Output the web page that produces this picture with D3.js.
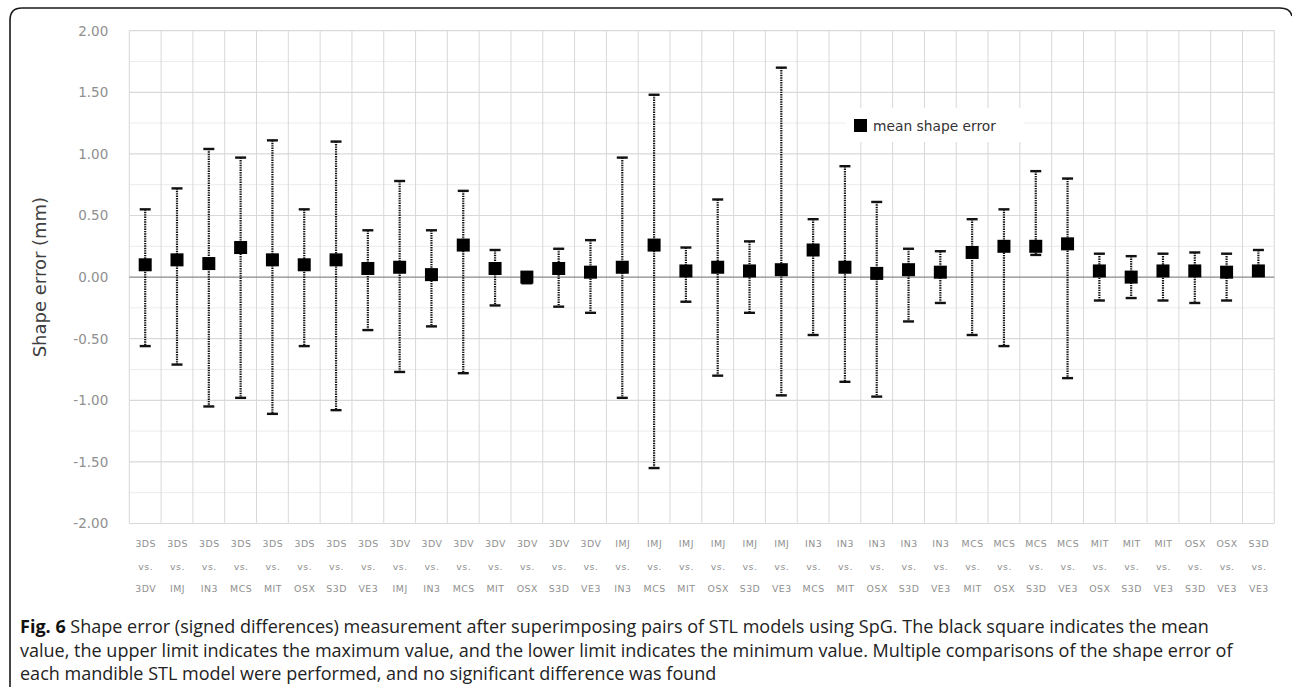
<!DOCTYPE html>
<html>
<head>
<meta charset="utf-8">
<script src="https://cdn.jsdelivr.net/npm/d3@7"></script>
<style>
	html, body { margin: 0; padding: 0; background: #ffffff; }
	svg { display: block; }
</style>
</head>
<body>
<div id="chart"></div>
<script>
// Pairs of STL models compared (first vs. second)
var pairFirst = ["3DS","3DS","3DS","3DS","3DS","3DS","3DS","3DS","3DV","3DV","3DV","3DV","3DV","3DV","3DV",
	"IMJ","IMJ","IMJ","IMJ","IMJ","IMJ","IN3","IN3","IN3","IN3","IN3","MCS","MCS","MCS","MCS",
	"MIT","MIT","MIT","OSX","OSX","S3D"];
var pairSecond = ["3DV","IMJ","IN3","MCS","MIT","OSX","S3D","VE3","IMJ","IN3","MCS","MIT","OSX","S3D","VE3",
	"IN3","MCS","MIT","OSX","S3D","VE3","MCS","MIT","OSX","S3D","VE3","MIT","OSX","S3D","VE3",
	"OSX","S3D","VE3","S3D","VE3","VE3"];
// Shape error (mm)
var meanValues = [0.10,0.14,0.11,0.24,0.14,0.10,0.14,0.07,0.08,0.02,0.26,0.07,0.00,0.07,0.04,
	0.08,0.26,0.05,0.08,0.05,0.06,0.22,0.08,0.03,0.06,0.04,0.20,0.25,0.25,0.27,
	0.05,0.00,0.05,0.05,0.04,0.05];
var maxValues = [0.55,0.72,1.04,0.97,1.11,0.55,1.10,0.38,0.78,0.38,0.70,0.22,0.01,0.23,0.30,
	0.97,1.48,0.24,0.63,0.29,1.70,0.47,0.90,0.61,0.23,0.21,0.47,0.55,0.86,0.80,
	0.19,0.17,0.19,0.20,0.19,0.22];
var minValues = [-0.56,-0.71,-1.05,-0.98,-1.11,-0.56,-1.08,-0.43,-0.77,-0.40,-0.78,-0.23,-0.05,-0.24,-0.29,
	-0.98,-1.55,-0.20,-0.80,-0.29,-0.96,-0.47,-0.85,-0.97,-0.36,-0.21,-0.47,-0.56,0.18,-0.82,
	-0.19,-0.17,-0.19,-0.21,-0.19,0.02];
var yTicks = [-2.00,-1.50,-1.00,-0.50,0.00,0.50,1.00,1.50,2.00];
var yMinorTicks = [-1.75,-1.25,-0.75,-0.25,0.25,0.75,1.25,1.75];
var legendLabel = "mean shape error";
var yTitle = "Shape error (mm)";
var captionLines = [
	"Shape error (signed differences) measurement after superimposing pairs of STL models using SpG. The black square indicates the mean",
	"value, the upper limit indicates the maximum value, and the lower limit indicates the minimum value. Multiple comparisons of the shape error of",
	"each mandible STL model were performed, and no significant difference was found"
];

var width = 1292, height = 687;
var plot = { left: 129.3, right: 1274.3, top: 30.7, bottom: 523.5 };
var fmt = d3.format(".2f");

var data = pairFirst.map(function(f, i){
	return { key: i, first: f, second: pairSecond[i], mean: meanValues[i], max: maxValues[i], min: minValues[i] };
});

var svg = d3.select("#chart").append("svg")
	.attr("width", width)
	.attr("height", height);

var x = d3.scaleBand()
	.domain(data.map(function(d){ return d.key; }))
	.range([plot.left, plot.right]);
var y = d3.scaleLinear()
	.domain([-2, 2])
	.range([plot.bottom, plot.top]);

// Frame round figure + caption
svg.append("path")
	.attr("d", "M10,687 L10,20 Q10,8 22,8 L1280,8 Q1290,8 1292,16")
	.attr("fill", "none")
	.attr("stroke", "#1a1a1a")
	.attr("stroke-width", 1.6);

/*
 * Grid
 */
var grid = svg.append("g").attr("class", "grid");
grid.selectAll("line.minor").data(yMinorTicks).enter().append("line")
	.attr("class", "minor")
	.attr("x1", plot.left).attr("x2", plot.right)
	.attr("y1", function(d){ return y(d); }).attr("y2", function(d){ return y(d); })
	.attr("stroke", "#ececec").attr("stroke-width", 1);
grid.selectAll("line.major").data(yTicks.filter(function(d){ return d !== 0; })).enter().append("line")
	.attr("class", "major")
	.attr("x1", plot.left).attr("x2", plot.right)
	.attr("y1", function(d){ return y(d); }).attr("y2", function(d){ return y(d); })
	.attr("stroke", "#d9d9d9").attr("stroke-width", 1.2);
var bounds = data.map(function(d){ return x(d.key); }).concat([plot.right]);
grid.selectAll("line.vert").data(bounds).enter().append("line")
	.attr("class", "vert")
	.attr("x1", function(d){ return d; }).attr("x2", function(d){ return d; })
	.attr("y1", plot.top).attr("y2", plot.bottom)
	.attr("stroke", "#d8d8d8").attr("stroke-width", 1);
// zero line
svg.append("line")
	.attr("x1", plot.left).attr("x2", plot.right)
	.attr("y1", y(0)).attr("y2", y(0))
	.attr("stroke", "#8a8a8a").attr("stroke-width", 1.3);

/*
 * Axes
 */
var yAxis = svg.append("g")
	.attr("transform", "translate(" + (plot.left - 18) + ",0)")
	.call(d3.axisLeft(y).tickValues(yTicks).tickSize(0)
		.tickFormat(function(d){ return fmt(d).replace("\u2212", "-"); }));
yAxis.select(".domain").remove();
yAxis.selectAll("text")
	.attr("fill", "#8f8f8f")
	.style("font-family", "'DejaVu Sans', Verdana, sans-serif")
	.style("font-size", "13.5px");

svg.append("text")
	.attr("transform", "translate(46," + y(0) + ") rotate(-90)")
	.attr("text-anchor", "middle")
	.attr("fill", "#404040")
	.style("font-family", "'DejaVu Sans', Verdana, sans-serif")
	.style("font-size", "18px")
	.text(yTitle);

var xLabels = svg.append("g").attr("class", "x-labels")
	.selectAll("g").data(data).enter().append("g")
	.attr("transform", function(d){ return "translate(" + (x(d.key) + x.bandwidth() / 2 + 0.5) + ",0)"; });
[["first", 547], ["vs", 569.5], ["second", 592]].forEach(function(row){
	xLabels.append("text")
		.attr("y", row[1])
		.attr("text-anchor", "middle")
		.attr("fill", "#8f8f8f")
		.style("font-family", "'DejaVu Sans', Verdana, sans-serif")
		.style("font-size", "9.4px")
		.style("letter-spacing", "0.5px")
		.text(function(d){ return row[0] === "vs" ? "vs." : d[row[0]]; });
});

/*
 * Error bars and means
 */
var marks = svg.append("g").attr("class", "marks")
	.selectAll("g").data(data).enter().append("g")
	.attr("transform", function(d){ return "translate(" + (x(d.key) + x.bandwidth() / 2) + ",0)"; });
marks.append("line")
	.attr("x1", 0).attr("x2", 0)
	.attr("y1", function(d){ return y(d.max); })
	.attr("y2", function(d){ return y(d.min); })
	.attr("stroke", "#111")
	.attr("stroke-width", 2.2)
	.attr("stroke-dasharray", "1.4,1");
marks.selectAll("line.cap")
	.data(function(d){ return [d.max, d.min]; })
	.enter().append("line")
	.attr("class", "cap")
	.attr("x1", -5.5).attr("x2", 5.5)
	.attr("y1", function(v){ return y(v); }).attr("y2", function(v){ return y(v); })
	.attr("stroke", "#111")
	.attr("stroke-width", 2.4);
marks.append("rect")
	.attr("x", -6.5).attr("width", 13)
	.attr("y", function(d){ return y(d.mean) - 6.5; })
	.attr("height", 13)
	.attr("fill", "#000");

/*
 * Legend
 */
var legend = svg.append("g").attr("class", "legend-group");
legend.append("rect")
	.attr("x", 846).attr("y", 108).attr("width", 178).attr("height", 34)
	.attr("fill", "#ffffff");
legend.append("rect")
	.attr("x", 854).attr("y", 119).attr("width", 13).attr("height", 13)
	.attr("fill", "#000");
legend.append("text")
	.attr("x", 873).attr("y", 130.5)
	.attr("fill", "#333")
	.style("font-family", "'DejaVu Sans', Verdana, sans-serif")
	.style("font-size", "13.8px")
	.text(legendLabel);

/*
 * Caption - size the font so the first line spans the same width as the original
 */
var caption = svg.append("g").attr("class", "caption")
	.style("font-family", "'Open Sans', 'Noto Sans', sans-serif")
	.style("font-size", "16.5px")
	.attr("fill", "#222");
var captionTexts = captionLines.map(function(line, i){
	var t = caption.append("text")
		.attr("x", 20)
		.attr("y", 633 + i * 23.5);
	if(i === 0){
		t.append("tspan").style("font-weight", "bold").attr("fill", "#111").text("Fig. 6");
		t.append("tspan").text(" " + line);
	}else{
		t.text(line);
	}
	return t;
});
var natural = captionTexts[0].node().getComputedTextLength();
var fit = 1190 / natural;
caption.style("font-size", (16.5 * fit).toFixed(2) + "px");
</script>
</body>
</html>
